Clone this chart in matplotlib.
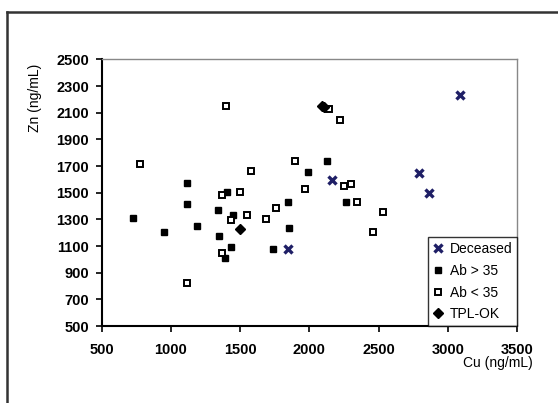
import matplotlib
matplotlib.use('Agg')
import matplotlib.pyplot as plt
from matplotlib.lines import Line2D

# Deceased patients
deceased_cu = [3085, 2796, 2861, 2163, 1850]
deceased_zn = [2230, 1648, 1498, 1593, 1077]

# Ab > 35
ab_hi_cu = [1116, 1116, 725, 954, 1188, 1340, 1349, 1405, 1436, 1392, 1452,
            2127, 1990, 1843, 2264, 1855, 1737]
ab_hi_zn = [1573, 1415, 1307, 1202, 1252, 1367, 1172, 1503, 1092, 1009, 1335,
            1735, 1653, 1430, 1430, 1239, 1077]

# Ab < 35
ab_lo_cu = [778, 1397, 1578, 1500, 1368, 1763, 1116, 1549, 1436, 1686, 1368,
            1898, 1970, 2254, 2303, 2344, 2532, 2460, 2223, 2146]
ab_lo_zn = [1716, 2149, 1665, 1503, 1485, 1383, 826, 1335, 1292, 1305, 1050,
            1735, 1530, 1547, 1565, 1430, 1352, 1209, 2049, 2129]

# TPL-OK
tpl_cu = [2090, 2108, 1500]
tpl_zn = [2152, 2143, 1228]

x_ticks = [500, 1000, 1500, 2000, 2500, 3000, 3500]
y_ticks = [500, 700, 900, 1100, 1300, 1500, 1700, 1900, 2100, 2300, 2500]

plt.rcParams['font.family'] = ['Liberation Sans', 'DejaVu Sans']

fig = plt.figure(figsize=(5.58, 4.03), dpi=100)
ax = fig.add_axes([0.182, 0.191, 0.7445, 0.6614])

ax.plot(deceased_cu, deceased_zn, 'x', color='#1f1f66', ms=5.5, mew=2.4, label='Deceased')
ax.plot(ab_hi_cu, ab_hi_zn, 's', color='black', ms=4.8, label='Ab > 35')
ax.plot(ab_lo_cu, ab_lo_zn, 's', mfc='white', mec='black', ms=4.4, mew=1.4, label='Ab < 35')
ax.plot(tpl_cu, tpl_zn, 'D', color='black', ms=5, label='TPL-OK')

ax.set_xlim(500, 3500)
ax.set_ylim(500, 2500)
ax.set_xticks(x_ticks)
ax.set_yticks(y_ticks)
ax.set_xticklabels([str(v) for v in x_ticks], fontweight='bold', fontsize=10.5)
ax.set_yticklabels([str(v) for v in y_ticks], fontweight='bold', fontsize=10.5)
ax.tick_params(axis='x', direction='out', length=4, width=1.2, pad=8)
ax.tick_params(axis='y', direction='out', length=4, width=1.2, pad=5)

for s in ['top', 'right']:
    ax.spines[s].set_color('#888888')
    ax.spines[s].set_linewidth(1.0)
for s in ['left', 'bottom']:
    ax.spines[s].set_color('black')
    ax.spines[s].set_linewidth(1.5)

ax.text(-0.16, 0.855, 'Zn (ng/mL)', transform=ax.transAxes, rotation=90,
        ha='center', va='center', fontsize=10)
ax.text(0.955, -0.14, 'Cu (ng/mL)', transform=ax.transAxes,
        ha='center', va='center', fontsize=10)

leg = ax.legend(loc='lower right', borderaxespad=0, fancybox=False,
                frameon=True, fontsize=10, handlelength=0.8, handletextpad=0.4,
                labelspacing=0.55, borderpad=0.35)
leg.get_frame().set_edgecolor('black')
leg.get_frame().set_linewidth(1.0)

# outer frame (left and top edges only are visible)
fig.add_artist(Line2D([7 / 558, 7 / 558], [0, 1 - 11.5 / 403], transform=fig.transFigure,
                      color='#333333', lw=1.8))
fig.add_artist(Line2D([7 / 558, 1], [1 - 11.5 / 403, 1 - 11.5 / 403], transform=fig.transFigure,
                      color='#333333', lw=1.8))

fig.savefig('out.png', dpi=100)
